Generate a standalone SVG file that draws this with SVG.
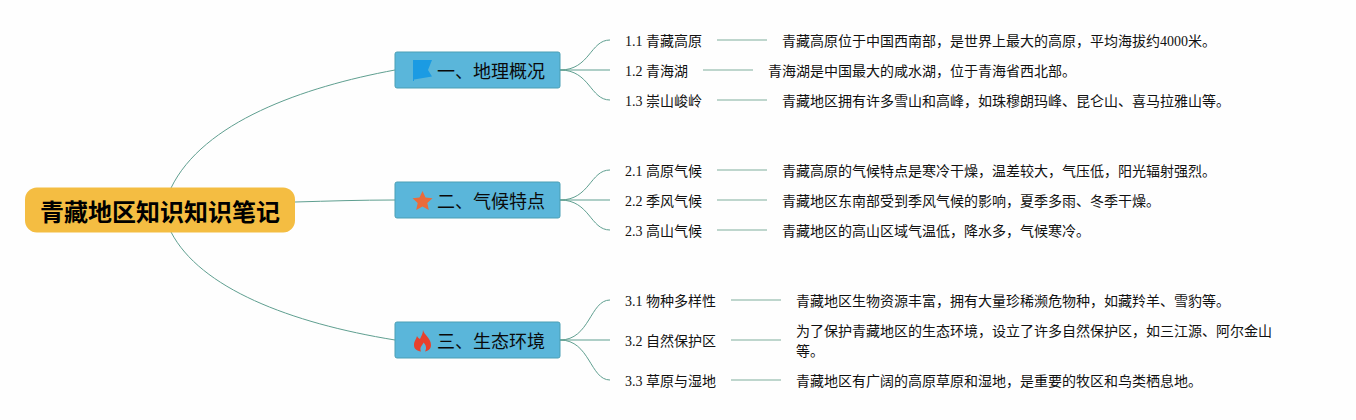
<svg xmlns="http://www.w3.org/2000/svg" width="1356" height="420" viewBox="0 0 1356 420">
<style>
text{font-family:"Liberation Serif","Noto Sans CJK SC",serif;font-size:14px;fill:#111}
text.m{font-family:"Liberation Sans","Noto Sans CJK SC",sans-serif}
.c path{fill:none;stroke:#5f9f90;stroke-width:1}
.c path.d{stroke:#a9c8bd;stroke-width:1.5}
.b{fill:#5ab6da;stroke:#4a9fb5;stroke-width:1}
.t{font-size:18px;fill:#0a0a0a}
</style>
<rect width="1356" height="420" fill="#fefefe"/>
<g class="c" id="connectors">
<path d="M171 188C203 122 303 87 395 70"/>
<path d="M295 202C330 201 360 200 395 200"/>
<path d="M171 232C200 288 290 323 395 340"/>
<path d="M560 70C590 70 590 40 610 40"/>
<path d="M560 70H610"/>
<path d="M560 70C590 70 590 100 610 100"/>
<path d="M560 200C590 200 590 170 610 170"/>
<path d="M560 200H610"/>
<path d="M560 200C590 200 590 230 610 230"/>
<path d="M560 340C590 340 590 300 610 300"/>
<path d="M560 340H610"/>
<path d="M560 340C590 340 590 380 610 380"/>
<path class="d" d="M717 40H767"/>
<path class="d" d="M703 70H753"/>
<path class="d" d="M717 100H767"/>
<path class="d" d="M717 170H767"/>
<path class="d" d="M717 200H767"/>
<path class="d" d="M717 230H767"/>
<path class="d" d="M731 300H781"/>
<path class="d" d="M731 340H781"/>
<path class="d" d="M731 380H781"/>
</g>
<g id="root"><rect x="25" y="187.500" width="270" height="45" rx="12" fill="#f4bd42"/>
<text class="m" x="160" y="221" text-anchor="middle" style="font-size:24px;font-weight:700;fill:#000">青藏地区知识知识笔记</text></g>
<g id="n1"><rect class="b" x="395" y="52" width="165" height="36" rx="2"/>
<path d="M413 60H432L428 70L432 76.500L414 79.500V81H413Z" fill="#1b9be3"/>
<text class="t m" x="437" y="77.500">一、地理概况</text></g>
<g id="n2"><rect class="b" x="395" y="182" width="165" height="36" rx="2"/>
<path d="M422.500 191L425.500 197.500L432.500 198.300L427.300 203L428.800 210L422.500 206.500L416.200 210L417.700 203L412.500 198.300L419.500 197.500Z" fill="#ea6b3a"/>
<text class="t m" x="437" y="207.500">二、气候特点</text></g>
<g id="n3"><rect class="b" x="395" y="322" width="165" height="36" rx="2"/>
<path d="M423 330C424 335 431 338 431 345C431 349 428 351 425 351.500C427 348 426 345 423.500 342.500C423 345 419 347 421 351.500C417 351 414 349 414 345C414 341 416 340 417 336C418 338 419 338 420 339C421 336 423 334 423 330Z" fill="#e8412c"/>
<text class="t m" x="437" y="347.500">三、生态环境</text></g>
<g id="n11"><text x="625" y="46">1.1 青藏高原</text></g>
<g id="n12"><text x="625" y="76">1.2 青海湖</text></g>
<g id="n13"><text x="625" y="106">1.3 崇山峻岭</text></g>
<g id="n21"><text x="625" y="176">2.1 高原气候</text></g>
<g id="n22"><text x="625" y="206">2.2 季风气候</text></g>
<g id="n23"><text x="625" y="236">2.3 高山气候</text></g>
<g id="n31"><text x="625" y="306">3.1 物种多样性</text></g>
<g id="n32"><text x="625" y="346">3.2 自然保护区</text></g>
<g id="n33"><text x="625" y="386">3.3 草原与湿地</text></g>
<g id="d11"><text x="782" y="46">青藏高原位于中国西南部，是世界上最大的高原，平均海拔约4000米。</text></g>
<g id="d12"><text x="768" y="76">青海湖是中国最大的咸水湖，位于青海省西北部。</text></g>
<g id="d13"><text x="782" y="106">青藏地区拥有许多雪山和高峰，如珠穆朗玛峰、昆仑山、喜马拉雅山等。</text></g>
<g id="d21"><text x="782" y="176">青藏高原的气候特点是寒冷干燥，温差较大，气压低，阳光辐射强烈。</text></g>
<g id="d22"><text x="782" y="206">青藏地区东南部受到季风气候的影响，夏季多雨、冬季干燥。</text></g>
<g id="d23"><text x="782" y="236">青藏地区的高山区域气温低，降水多，气候寒冷。</text></g>
<g id="d31"><text x="796" y="306">青藏地区生物资源丰富，拥有大量珍稀濒危物种，如藏羚羊、雪豹等。</text></g>
<g id="d32"><text x="796" y="336">为了保护青藏地区的生态环境，设立了许多自然保护区，如三江源、阿尔金山</text><text x="796" y="356">等。</text></g>
<g id="d33"><text x="796" y="386">青藏地区有广阔的高原草原和湿地，是重要的牧区和鸟类栖息地。</text></g>
</svg>
